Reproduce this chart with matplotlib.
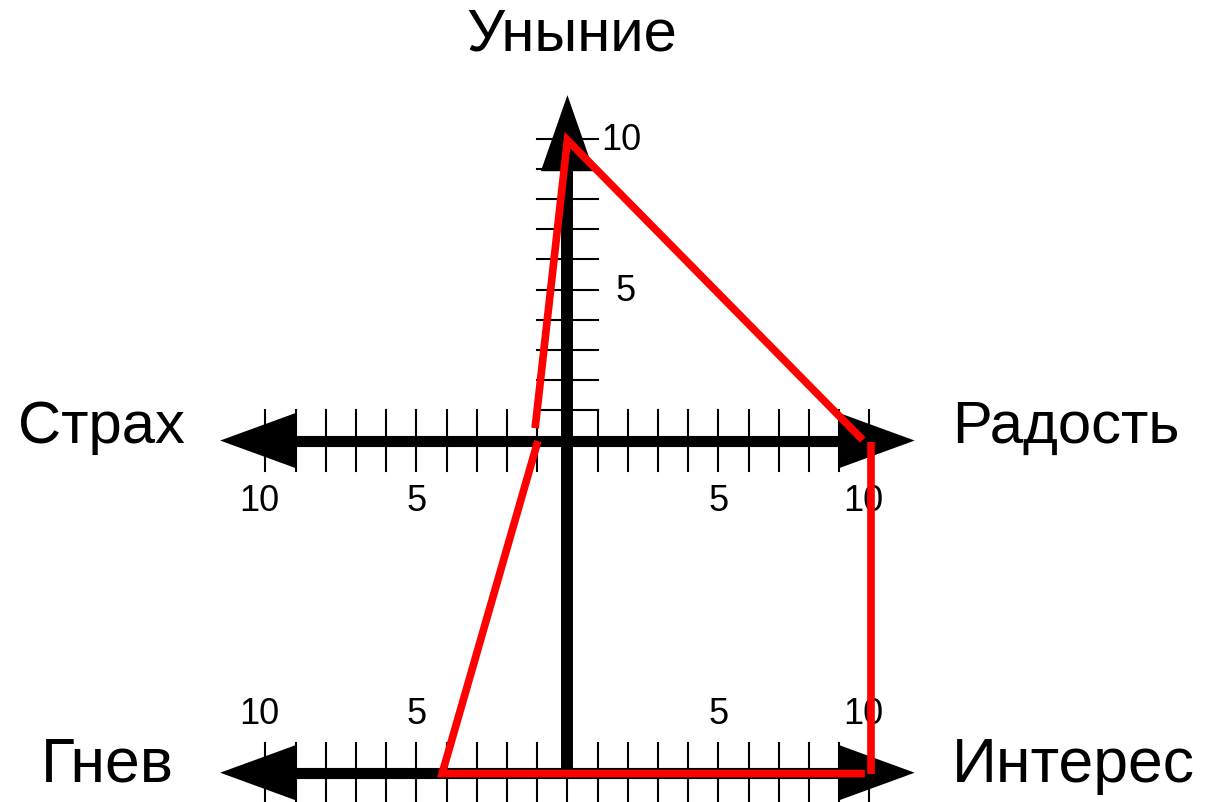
import matplotlib.pyplot as plt
from matplotlib.patches import Polygon
import numpy as np

plt.rcParams['font.family'] = ['Liberation Sans', 'DejaVu Sans']

# Шкалы осей
x_ticks = np.arange(-10, 11)
y_ticks = np.arange(1, 11)
x_tick_labels = {-10: '10', -5: '5', 5: '5', 10: '10'}
y_tick_labels = {5: '5', 10: '10'}

# Профиль эмоций (красная ломаная), по кускам
upper_x = [-1.07, 0.0, 9.78]
upper_y = [0.41, 9.95, 0.02]
right_x = [10.05, 10.05]
right_y = [-0.05, -11.05]
lower_x = [9.85, -4.15, -0.98]
lower_y = [-11.03, -11.03, -0.02]

BOTTOM = -11  # уровень нижней оси


def arrow_head(ax, tip, direction, length=2.52, half_width=0.92):
    """Рисует залитый треугольник-стрелку с вершиной в tip."""
    tx, ty = tip
    dx, dy = direction
    bx, by = tx - dx * length, ty - dy * length
    px, py = -dy * half_width, dx * half_width
    tri = Polygon([(tx, ty), (bx + px, by + py), (bx - px, by - py)],
                  closed=True, facecolor='black', edgecolor='none', zorder=3)
    ax.add_patch(tri)


fig = plt.figure(figsize=(12.07, 8.02), dpi=100)
ax = fig.add_axes([0, 0, 1, 1])
ax.set_xlim(-18.79, 21.18)
ax.set_ylim(-11.97, 14.59)
ax.axis('off')

# Горизонтальные оси: середина и низ
for y0 in (0, BOTTOM):
    ax.plot([-9, 9], [y0, y0], color='black', lw=8, solid_capstyle='butt', zorder=2)
    arrow_head(ax, (-11.5, y0), (-1, 0))
    arrow_head(ax, (11.5, y0), (1, 0))
    for x in x_ticks:
        ax.plot([x, x], [y0 - 1, y0 + 1], color='black', lw=1.5, zorder=1)

# Вертикальная ось
ax.plot([0, 0], [BOTTOM, 9], color='black', lw=8.6, solid_capstyle='butt', zorder=2)
arrow_head(ax, (0, 11.44), (0, 1), half_width=0.88)
for y in y_ticks:
    ax.plot([-1, 1], [y, y], color='black', lw=1.5, zorder=1)

# Подписи делений
num_size = 26
for v, s in x_tick_labels.items():
    shift = -0.2 if len(s) > 1 else 0
    ax.text(v + shift, -2.02, s, ha='center', va='center', fontsize=num_size)
    ax.text(v + shift, BOTTOM + 1.93, s, ha='center', va='center', fontsize=num_size)
ax.text(1.78, 9.95, y_tick_labels[10], ha='center', va='center', fontsize=num_size)
ax.text(1.94, 4.92, y_tick_labels[5], ha='center', va='center', fontsize=num_size)

# Названия эмоций
ax.text(0.15, 12.93, 'Уныние', ha='center', va='baseline', fontsize=43)
ax.text(-12.67, -0.08, 'Страх', ha='right', va='baseline', fontsize=43)
ax.text(12.75, -0.08, 'Радость', ha='left', va='baseline', fontsize=43)
ax.text(-13.03, -11.3, 'Гнев', ha='right', va='baseline', fontsize=45)
ax.text(12.72, -11.3, 'Интерес', ha='left', va='baseline', fontsize=45)

# Красная ломаная поверх осей
for xs, ys in ((upper_x, upper_y), (right_x, right_y), (lower_x, lower_y)):
    ax.plot(xs, ys, color='red', lw=5.5, solid_capstyle='butt',
            solid_joinstyle='miter', zorder=5)

fig.savefig('out.png', dpi=100)
plt.close(fig)
